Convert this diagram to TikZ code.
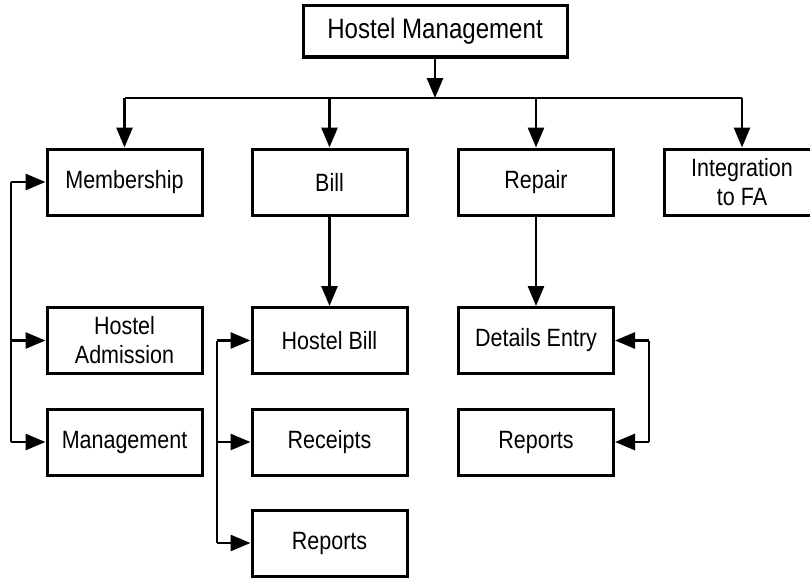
\documentclass[tikz,border=0pt]{standalone}
\usepackage{fontspec}
\setmainfont[FakeStretch=0.86]{Liberation Sans}
\usetikzlibrary{arrows.meta}
\begin{document}
\begin{tikzpicture}[x=1pt,y=-1pt,
  box/.style={draw,line width=3pt,minimum width=155pt,minimum height=66pt,inner sep=0pt,align=center,font=\fontsize{25}{29}\selectfont},
  conn/.style={line width=2.8pt},
  arr/.style={line width=2.8pt,-{Triangle[length=20pt,width=16pt]}}]
\useasboundingbox (0,0) rectangle (810,578);
\fill[white] (0,0) rectangle (810,578);
\node[box,minimum width=264pt,minimum height=51pt,font=\fontsize{28}{32}\selectfont] (top) at (435,31.5) {Hostel Management};
\node[box] (mem) at (124.5,182) {Membership};
\node[box] (bill) at (329.5,182) {Bill};
\node[box] (rep) at (536,182) {Repair};
\node[box] (integ) at (742,182) {Integration\\to FA};
\node[box] (adm) at (124.5,340.5) {Hostel\\Admission};
\node[box] (mgmt) at (124.5,442) {Management};
\node[box] (hb) at (329.5,340.5) {Hostel Bill};
\node[box] (rec) at (329.5,442) {Receipts};
\node[box] (rpt) at (329.5,543) {Reports};
\node[box] (de) at (536,340.5) {Details Entry};
\node[box] (rrep) at (536,442) {Reports};
\coordinate (hub) at (435,98);
\coordinate (lb) at (11,0);
\coordinate (bb) at (217,0);
\coordinate (rb) at (649,0);
% top distribution
\draw[arr] (top.south) -- (hub);
\draw[conn] (mem.north |- hub) -- (integ.north |- hub);
\foreach \n in {mem,bill,rep,integ}
  \draw[arr] (\n.north |- hub) -- (\n.north);
\draw[arr] (bill.south) -- (hb.north);
\draw[arr] (rep.south) -- (de.north);
% left bus
\draw[conn] (lb |- mem.west) -- (lb |- mgmt.west);
\foreach \n in {mem,adm,mgmt}
  \draw[arr] (lb |- \n.west) -- (\n.west);
% bill bus
\draw[conn] (bb |- hb.west) -- (bb |- rpt.west);
\foreach \n in {hb,rec,rpt}
  \draw[arr] (bb |- \n.west) -- (\n.west);
% repair bus
\draw[conn] (rb |- de.east) -- (rb |- rrep.east);
\foreach \n in {de,rrep}
  \draw[arr] (rb |- \n.east) -- (\n.east);
\end{tikzpicture}
\end{document}
